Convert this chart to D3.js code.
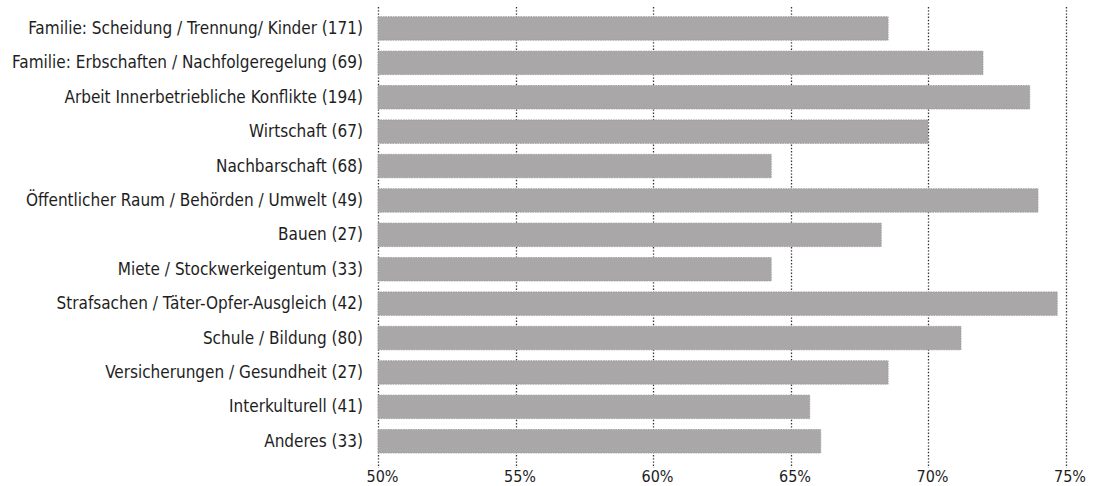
<!DOCTYPE html>
<html>
<head>
<meta charset="utf-8">
<script src="https://cdn.jsdelivr.net/npm/d3@7"></script>
<style>
  html, body { margin: 0; padding: 0; background: #ffffff; }
  svg { display: block; }
  .lbl { font-family: "Liberation Sans Narrow", "DejaVu Sans Condensed", "Roboto", sans-serif; fill: #1e1e1e; }
</style>
</head>
<body>
<svg id="chart" width="1102" height="486"></svg>
<script>
const categories = [
  "Familie: Scheidung / Trennung/ Kinder (171)",
  "Familie: Erbschaften / Nachfolgeregelung (69)",
  "Arbeit Innerbetriebliche Konflikte (194)",
  "Wirtschaft (67)",
  "Nachbarschaft (68)",
  "Öffentlicher Raum / Behörden / Umwelt (49)",
  "Bauen (27)",
  "Miete / Stockwerkeigentum (33)",
  "Strafsachen / Täter-Opfer-Ausgleich (42)",
  "Schule / Bildung (80)",
  "Versicherungen / Gesundheit (27)",
  "Interkulturell (41)",
  "Anderes (33)"
];
const values = [68.55, 72.0, 73.7, 70.0, 64.3, 74.0, 68.3, 64.3, 74.7, 71.2, 68.55, 65.7, 66.1];
const tickValues = [50, 55, 60, 65, 70, 75];
const tickLabels = ["50%", "55%", "60%", "65%", "70%", "75%"];

const svg = d3.select("#chart");

const x = d3.scaleLinear().domain([50, 75]).range([378, 1065.5]);
const y = d3.scaleBand().domain(categories).range([16.7, 453]).paddingInner(0.317).paddingOuter(0);

// dotted vertical gridlines
svg.append("g").selectAll("line")
  .data(tickValues)
  .join("line")
  .attr("x1", d => Math.round(x(d)) + 0.5)
  .attr("x2", d => Math.round(x(d)) + 0.5)
  .attr("y1", 7)
  .attr("y2", 468)
  .attr("stroke", "#333333")
  .attr("stroke-width", 1.3)
  .attr("stroke-dasharray", "1.4,1.8");

// bars
svg.append("g").selectAll("rect")
  .data(values)
  .join("rect")
  .attr("x", x(50))
  .attr("y", (d, i) => y(categories[i]))
  .attr("width", d => x(d) - x(50))
  .attr("height", y.bandwidth())
  .attr("fill", "#a9a7a7")
  .attr("stroke", "#9a9898")
  .attr("stroke-width", 0.8)
  .attr("stroke-dasharray", "1.5,1");

// category labels (y axis)
const yAxis = d3.axisLeft(y).tickSize(0).tickPadding(15);
const gy = svg.append("g").attr("transform", `translate(${x(50)},0)`).call(yAxis);
gy.select(".domain").remove();
gy.selectAll("text")
  .attr("class", "lbl")
  .style("font-size", "17px");

// x axis tick labels
const xAxis = d3.axisBottom(x).tickValues(tickValues).tickFormat((d, i) => tickLabels[i]).tickSize(0).tickPadding(0);
const gx = svg.append("g").attr("transform", "translate(4,0)").call(xAxis);
gx.select(".domain").remove();
gx.selectAll("text")
  .attr("class", "lbl")
  .attr("y", 482)
  .attr("dy", "0")
  .style("font-size", "16px");
</script>
</body>
</html>
